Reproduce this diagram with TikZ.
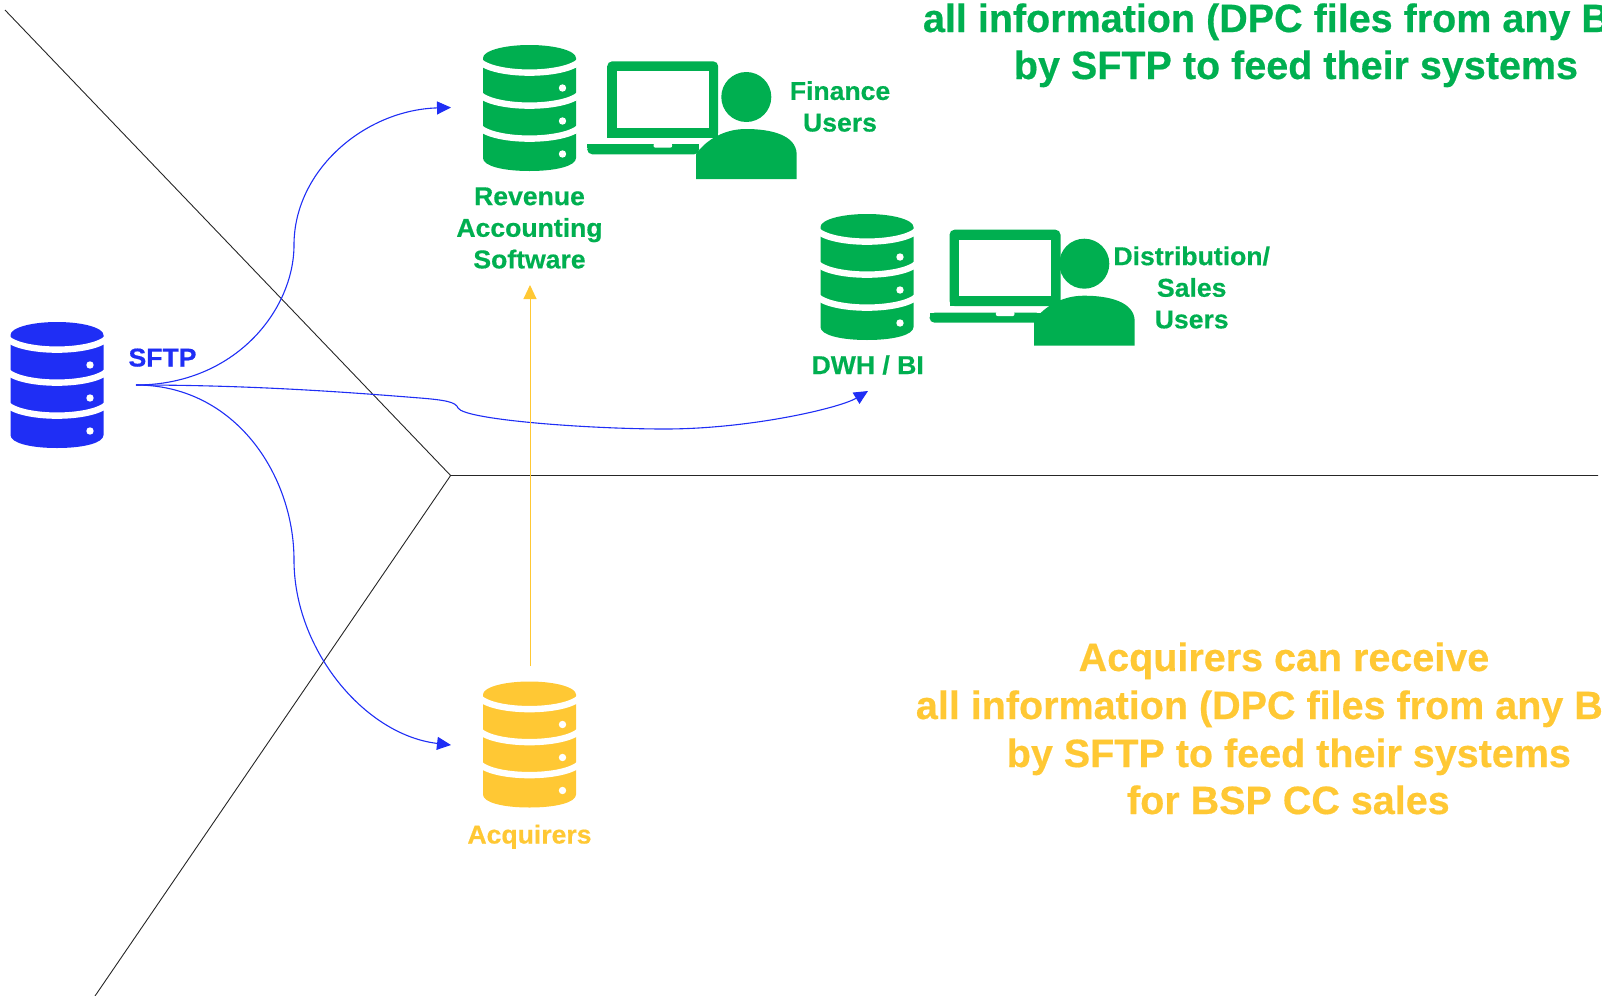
\documentclass[tikz,border=0pt]{standalone}
\usepackage{fontspec}
\setmainfont{Liberation Sans}
\newfontfamily\labelface[FakeBold=0.5,FakeStretch=1.03]{Liberation Sans Bold}
\newfontfamily\titleface[FakeBold=0.5]{Liberation Sans Bold}
\usetikzlibrary{arrows.meta}
\definecolor{cgreen}{HTML}{00AF50}
\definecolor{cblue}{HTML}{1F2EF5}
\definecolor{cyellow}{HTML}{FFC834}
\tikzset{
  x=0.5pt,y=-0.5pt,
  divider/.style={draw=black!85,line width=0.45pt},
  flow/.style={draw=cblue,line width=0.55pt,-{Triangle[length=7pt,width=6.5pt]}},
  feed/.style={draw=cyellow,line width=0.5pt,-{Triangle[length=7pt,width=6.5pt]}},
  small/.style={font=\labelface\fontsize{12.9}{15.8}\selectfont,align=center,inner sep=0pt},
  big/.style={font=\titleface\fontsize{19.75}{23.5}\selectfont,inner sep=0pt},
  pics/dbicon/.style={code={
    \fill[#1] (0,13) -- (0,113) .. controls (0,121) and (20,126) .. (46.5,126)
      .. controls (73,126) and (93,121) .. (93,113) -- (93,13)
      .. controls (93,6) and (73,0) .. (46.5,0) .. controls (20,0) and (0,6) .. (0,13) -- cycle;
    \foreach \e in {17,50,83}{
      \draw[white,line width=3.2pt] (-4,\e-1) .. controls (12,\e+14.5) and (81,\e+14.5) .. (97,\e-1);
    }
    \foreach \d in {43,76,109}{ \fill[white] (79.5,\d) circle [radius=3.7]; }
  }},
  pics/laptopicon/.style={code={
    \fill[#1,rounded corners=2.5pt] (0,0) rectangle (111,76.4);
    \fill[#1] (0,70) rectangle (111,76.4);
    \fill[white] (9.6,10) rectangle (101.6,66.4);
    \fill[#1,rounded corners=2.5pt] (-20,83) -- (-20,93) -- (92,93) -- (92,83) -- cycle;
    \fill[#1] (-20,83) rectangle (92,87);
    \fill[white,rounded corners=1pt] (46.3,82) -- (46.3,86.4) -- (65,86.4) -- (65,82) -- cycle;
  }},
  pics/usericon/.style={code={
    \fill[#1] (50.3,-82) circle [radius=25];
    \fill[#1] (0,0) -- (0,-25) -- (4,-30) .. controls (14,-41) and (30,-50) .. (50,-50)
      .. controls (75,-50) and (100,-44) .. (100.7,-25) -- (100.7,0) -- cycle;
  }}
}
\begin{document}
\begin{tikzpicture}
\useasboundingbox (0,0) rectangle (1602,996);
% dividers
\coordinate (hub) at (450.6,475.5);
\coordinate (nw) at (5,10);
\coordinate (east) at (1598,475.5);
\coordinate (sw) at (95,996);
\draw[divider] (nw) -- (hub) -- (east);
\draw[divider] (hub) -- (sw);
% icons
\pic (sourcedb) at (10.5,322) {dbicon=cblue};
\pic (revdb) at (483,45) {dbicon=cgreen};
\pic (dwhdb) at (820.5,214) {dbicon=cgreen};
\pic (acqdb) at (483,681.5) {dbicon=cyellow};
\pic (lap1) at (607.2,61.3) {laptopicon=cgreen};
\pic (user1) at (696,179) {usericon=cgreen};
\pic (lap2) at (949.5,229.7) {laptopicon=cgreen};
\pic (user2) at (1034,345.7) {usericon=cgreen};
% connector ends
\coordinate (out) at (136,385);
\coordinate (revin) at (451,107.5);
\coordinate (acqin) at (451,745);
\coordinate (dwhin) at (868,391);
\coordinate (revup) at (530,285);
\coordinate (acqup) at (530,666);
% connectors
\draw[flow] (out) .. controls (235,385) and (294,310) .. (294,245)
  .. controls (294,170) and (365,110) .. (revin);
\draw[flow] (out) .. controls (235,385) and (294,475) .. (294,560)
  .. controls (294,650) and (365,735) .. (acqin);
\draw[flow] (out) .. controls (250,385) and (345,392) .. (420,398)
  .. controls (445,400) and (456,402) .. (458,408)
  .. controls (465,420) and (590,429) .. (665,429)
  .. controls (750,429) and (840,408) .. (dwhin);
\draw[feed] (acqup) -- (revup);
% labels
\node[small,text=cblue,anchor=base] (sftp) at (162.5,366.5) {SFTP};
\node[small,text=cgreen] (revlab) at (529.5,228) {Revenue\\Accounting\\Software};
\node[small,text=cgreen] (finlab) at (840,106.5) {Finance\\Users};
\node[small,text=cgreen,anchor=base] (dwhlab) at (867.7,374) {DWH / BI};
\node[small,text=cgreen] (distlab) at (1191.7,287.5) {Distribution/\\Sales\\Users};
\node[small,text=cyellow,anchor=base] (acqlab) at (529.5,843.5) {Acquirers};
% big texts
\node[big,text=cgreen,anchor=base west] (g1) at (922.6,32) {all information (DPC files from any BS};
\node[big,text=cgreen,anchor=base west] (g2) at (1013.5,79) {by SFTP to feed their systems};
\node[big,text=cyellow,anchor=base] (y1) at (1284,671) {Acquirers can receive};
\node[big,text=cyellow,anchor=base west] (y2) at (915.5,719) {all information (DPC files from any BS};
\node[big,text=cyellow,anchor=base west] (y3) at (1006.4,767) {by SFTP to feed their systems};
\node[big,text=cyellow,anchor=base] (y4) at (1288.4,814) {for BSP CC sales};
\end{tikzpicture}
\end{document}
